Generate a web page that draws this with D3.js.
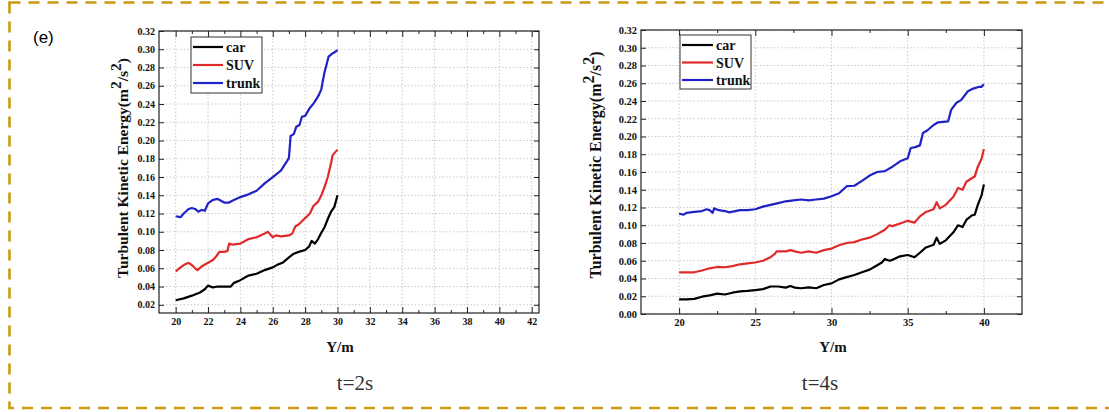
<!DOCTYPE html>
<html lang="en">
<head>
<meta charset="utf-8">
<title>Turbulent Kinetic Energy</title>
<style type="text/css">
    body { margin: 0; background: #fff; }
    svg { display: block; }
</style>
<script type="text/javascript" src="https://cdn.jsdelivr.net/npm/d3@7"></script>
</head>
<body>
<script type="text/javascript">
    // ---- data: [Y (m), TKE (m2/s2)] ----
    var seriesNames = ["car", "SUV", "trunk"];
    var seriesColors = ["#000000", "#e02a2a", "#1f22c4"];

    // t = 2s
    var car2s = [[20,0.025],[20.5,0.027],[21,0.030],[21.5,0.0335],[21.8,0.037],[22,0.041],[22.3,0.039],[22.6,0.040],[23,0.040],[23.4,0.040],[23.6,0.044],[24,0.047],[24.5,0.052],[25,0.054],[25.5,0.058],[26,0.061],[26.3,0.064],[26.6,0.066],[27,0.072],[27.3,0.076],[27.6,0.078],[28,0.080],[28.25,0.084],[28.4,0.090],[28.6,0.087],[28.8,0.092],[29,0.099],[29.2,0.105],[29.4,0.114],[29.6,0.122],[29.8,0.127],[30,0.140]];
    var suv2s = [[20,0.0565],[20.3,0.061],[20.5,0.0635],[20.8,0.066],[21,0.0635],[21.2,0.060],[21.35,0.058],[21.6,0.062],[22,0.066],[22.3,0.069],[22.5,0.073],[22.7,0.078],[23,0.078],[23.2,0.079],[23.3,0.087],[23.5,0.086],[24,0.087],[24.5,0.092],[25,0.094],[25.5,0.098],[25.7,0.100],[26,0.094],[26.2,0.096],[26.5,0.095],[27,0.096],[27.2,0.098],[27.4,0.106],[27.6,0.108],[28,0.115],[28.3,0.120],[28.5,0.128],[28.8,0.133],[29,0.140],[29.2,0.149],[29.4,0.160],[29.6,0.175],[29.7,0.184],[29.85,0.187],[30,0.190]];
    var trunk2s = [[20,0.117],[20.3,0.116],[20.5,0.120],[20.8,0.125],[21,0.126],[21.2,0.125],[21.4,0.122],[21.6,0.124],[21.8,0.123],[22,0.131],[22.3,0.135],[22.6,0.136],[23,0.132],[23.3,0.132],[23.5,0.134],[24,0.138],[24.5,0.141],[25,0.145],[25.5,0.153],[26,0.160],[26.5,0.167],[26.9,0.178],[27,0.181],[27.1,0.205],[27.3,0.207],[27.45,0.215],[27.65,0.217],[27.8,0.226],[28,0.227],[28.1,0.230],[28.3,0.236],[28.5,0.240],[28.75,0.247],[28.85,0.250],[29,0.256],[29.1,0.266],[29.2,0.275],[29.35,0.285],[29.45,0.292],[29.65,0.295],[29.85,0.297],[30,0.299]];

    // t = 4s
    var car4s = [[20,0.0165],[20.5,0.0165],[21,0.017],[21.5,0.0195],[22,0.021],[22.5,0.023],[23,0.022],[23.5,0.024],[24,0.0255],[24.5,0.026],[25,0.027],[25.5,0.028],[26,0.031],[26.5,0.031],[27,0.0297],[27.3,0.0315],[27.6,0.0297],[28,0.029],[28.5,0.030],[29,0.029],[29.5,0.0327],[30,0.0345],[30.5,0.039],[31,0.0415],[31.5,0.044],[32,0.047],[32.5,0.050],[33,0.055],[33.3,0.058],[33.5,0.062],[33.8,0.060],[34,0.061],[34.5,0.065],[35,0.0665],[35.45,0.064],[35.8,0.069],[36.2,0.075],[36.7,0.078],[36.9,0.086],[37.1,0.079],[37.5,0.083],[38,0.092],[38.3,0.100],[38.6,0.098],[38.85,0.106],[39.2,0.111],[39.4,0.112],[39.6,0.123],[39.85,0.134],[40,0.146]];
    var suv4s = [[20,0.047],[20.5,0.047],[21,0.047],[21.5,0.049],[22,0.0515],[22.5,0.053],[23,0.0527],[23.5,0.054],[24,0.056],[24.5,0.057],[25,0.058],[25.5,0.060],[26,0.064],[26.3,0.068],[26.4,0.0705],[26.8,0.0705],[27,0.0705],[27.3,0.072],[27.6,0.0705],[28,0.069],[28.5,0.0705],[29,0.069],[29.5,0.072],[30,0.0737],[30.5,0.0774],[31,0.080],[31.5,0.081],[32,0.084],[32.5,0.086],[33,0.090],[33.5,0.095],[33.8,0.100],[34,0.099],[34.5,0.102],[35,0.105],[35.45,0.103],[35.8,0.110],[36.2,0.115],[36.7,0.118],[36.9,0.126],[37.1,0.119],[37.5,0.123],[38,0.132],[38.3,0.142],[38.6,0.140],[38.85,0.149],[39.2,0.153],[39.4,0.155],[39.6,0.166],[39.85,0.175],[40,0.186]];
    var trunk4s = [[20,0.113],[20.3,0.112],[20.5,0.114],[21,0.115],[21.5,0.116],[21.8,0.118],[22,0.117],[22.2,0.114],[22.3,0.119],[22.6,0.117],[23,0.116],[23.3,0.1145],[23.6,0.1156],[24,0.117],[24.5,0.117],[25,0.118],[25.5,0.121],[26,0.123],[26.5,0.125],[27,0.127],[27.5,0.128],[28,0.129],[28.5,0.128],[29,0.129],[29.5,0.130],[30,0.1326],[30.5,0.136],[31,0.144],[31.5,0.1445],[32,0.150],[32.5,0.156],[33,0.160],[33.5,0.161],[34,0.166],[34.5,0.172],[35,0.1755],[35.2,0.187],[35.5,0.188],[35.8,0.190],[36,0.204],[36.3,0.207],[36.7,0.213],[37,0.216],[37.65,0.217],[37.85,0.230],[38.2,0.238],[38.5,0.241],[38.95,0.251],[39.3,0.254],[39.7,0.256],[39.85,0.256],[40,0.259]];

    // ticks
    var xTicks2s = [20,22,24,26,28,30,32,34,36,38,40,42];
    var xMinor2s = [21,23,25,27,29,31,33,35,37,39,41];
    var yTicks2s = [0.02,0.04,0.06,0.08,0.10,0.12,0.14,0.16,0.18,0.20,0.22,0.24,0.26,0.28,0.30,0.32];
    var xTicks4s = [20,25,30,35,40];
    var xMinor4s = [22.5,27.5,32.5,37.5];
    var yTicks4s = [0.00,0.02,0.04,0.06,0.08,0.10,0.12,0.14,0.16,0.18,0.20,0.22,0.24,0.26,0.28,0.30,0.32];

    var W = 1109, H = 412;
    var serif = "'Liberation Serif', 'Times New Roman', serif";

    var svg = d3.select("body").append("svg")
        .attr("width", W)
        .attr("height", H);

    svg.append("rect").attr("width", W).attr("height", H).attr("fill", "#fff");

    // dashed frame round the whole figure
    svg.append("rect")
        .attr("x", 9.5).attr("y", 2.5)
        .attr("width", 1120).attr("height", 405.5)
        .attr("fill", "none")
        .attr("stroke", "#c99a12")
        .attr("stroke-width", 2.6)
        .attr("stroke-dasharray", "11,8");

    svg.append("text")
        .attr("x", 33).attr("y", 43)
        .attr("font-family", "'Liberation Sans', Arial, sans-serif")
        .attr("font-size", 17)
        .text("(e)");

    function drawPanel(p) {
        var x = d3.scaleLinear().domain(p.xDomain).range([p.left, p.right]);
        var y = d3.scaleLinear().domain(p.yDomain).range([p.bottom, p.top]);
        var g = svg.append("g");

        /* GRID */
        g.selectAll(".gx").data(p.xTicks).enter().append("line")
            .attr("x1", function(d) { return x(d); })
            .attr("x2", function(d) { return x(d); })
            .attr("y1", p.top).attr("y2", p.bottom)
            .attr("stroke", "#bdbdbd").attr("stroke-width", 0.8)
            .attr("stroke-dasharray", "1.5,2");
        g.selectAll(".gy").data(p.yTicks).enter().append("line")
            .attr("x1", p.left).attr("x2", p.right)
            .attr("y1", function(d) { return y(d); })
            .attr("y2", function(d) { return y(d); })
            .attr("stroke", "#bdbdbd").attr("stroke-width", 0.8)
            .attr("stroke-dasharray", "1.5,2");

        /* AXES (ticks point inward) */
        var fmt = d3.format(".2f");
        g.append("g")
            .attr("transform", "translate(0," + p.bottom + ")")
            .call(d3.axisBottom(x).tickValues(p.xTicks).tickSize(-6).tickPadding(5).tickFormat(d3.format("d")));
        g.append("g")
            .attr("transform", "translate(0," + p.bottom + ")")
            .call(d3.axisBottom(x).tickValues(p.xMinor).tickSize(-3).tickFormat(""));
        g.append("g")
            .attr("transform", "translate(0," + p.top + ")")
            .call(d3.axisTop(x).tickValues(p.xTicks).tickSize(-6).tickFormat(""));
        g.append("g")
            .attr("transform", "translate(0," + p.top + ")")
            .call(d3.axisTop(x).tickValues(p.xMinor).tickSize(-3).tickFormat(""));
        g.append("g")
            .attr("transform", "translate(" + p.left + ",0)")
            .call(d3.axisLeft(y).tickValues(p.yTicks).tickSize(-5).tickPadding(4).tickFormat(fmt));
        g.append("g")
            .attr("transform", "translate(" + p.right + ",0)")
            .call(d3.axisRight(y).tickValues(p.yTicks).tickSize(-5).tickFormat(""));

        g.selectAll(".domain").attr("stroke", "none");
        g.selectAll(".tick line").attr("stroke", "#222").attr("stroke-width", 1);
        g.selectAll(".tick text")
            .attr("font-family", serif)
            .attr("font-weight", "bold")
            .attr("font-size", p.tickFont)
            .attr("fill", "#111");

        // frame
        g.append("rect")
            .attr("x", p.left).attr("y", p.top)
            .attr("width", p.right - p.left).attr("height", p.bottom - p.top)
            .attr("fill", "none").attr("stroke", "#222").attr("stroke-width", 1.2);

        /* LINES */
        var line = d3.line()
            .x(function(d) { return x(d[0]); })
            .y(function(d) { return y(d[1]); });
        p.series.forEach(function(s, i) {
            g.append("path")
                .datum(s)
                .attr("d", line)
                .attr("fill", "none")
                .attr("stroke", seriesColors[i])
                .attr("stroke-width", 2.2)
                .attr("stroke-linejoin", "round");
        });

        /* LEGEND */
        var lg = g.append("g").attr("transform", "translate(" + p.legend[0] + "," + p.legend[1] + ")");
        lg.append("rect")
            .attr("width", p.legendW).attr("height", p.legendH)
            .attr("fill", "#fff").attr("stroke", "#333").attr("stroke-width", 1);
        seriesNames.forEach(function(name, i) {
            var ly = 10 + i * p.legendStep;
            lg.append("line")
                .attr("x1", 2).attr("x2", p.legendLine)
                .attr("y1", ly).attr("y2", ly)
                .attr("stroke", seriesColors[i]).attr("stroke-width", 2.2);
            lg.append("text")
                .attr("x", p.legendLine + 3).attr("y", ly + 5)
                .attr("font-family", serif).attr("font-weight", "bold")
                .attr("font-size", 14).attr("fill", "#111")
                .text(name);
        });

        /* TITLES */
        var yt = g.append("text")
            .attr("transform", "translate(" + p.yTitleX + "," + p.yTitleY + ") rotate(-90)")
            .attr("text-anchor", "middle")
            .attr("font-family", serif).attr("font-weight", "bold")
            .attr("font-size", p.titleFont).attr("fill", "#111");
        yt.append("tspan").text("Turbulent Kinetic Energy(m");
        yt.append("tspan").attr("dy", -7).text("2");
        yt.append("tspan").attr("dy", 7).text("/s");
        yt.append("tspan").attr("dy", -7).text("2");
        yt.append("tspan").attr("dy", 7).text(")");

        g.append("text")
            .attr("x", p.xTitleX).attr("y", 352)
            .attr("text-anchor", "middle")
            .attr("font-family", serif).attr("font-weight", "bold")
            .attr("font-size", 15).attr("fill", "#111")
            .text("Y/m");

        g.append("text")
            .attr("x", p.captionX).attr("y", 390)
            .attr("text-anchor", "middle")
            .attr("font-family", serif)
            .attr("font-size", 21).attr("fill", "#333")
            .text(p.caption);
    }

    drawPanel({
        left: 159, right: 539, top: 31, bottom: 313,
        xDomain: [18.97, 42.45], yDomain: [0.011, 0.32],
        xTicks: xTicks2s, xMinor: xMinor2s, yTicks: yTicks2s,
        series: [car2s, suv2s, trunk2s],
        tickFont: 10, titleFont: 15.5,
        legend: [191, 37], legendW: 71, legendH: 56, legendStep: 18, legendLine: 32,
        yTitleX: 128, yTitleY: 168, xTitleX: 340,
        caption: "t=2s", captionX: 355
    });

    drawPanel({
        left: 641, right: 1022, top: 30, bottom: 314,
        xDomain: [17.5, 42.5], yDomain: [0, 0.32],
        xTicks: xTicks4s, xMinor: xMinor4s, yTicks: yTicks4s,
        series: [car4s, suv4s, trunk4s],
        tickFont: 10.5, titleFont: 16,
        legend: [680, 35], legendW: 71, legendH: 54, legendStep: 17.5, legendLine: 33,
        yTitleX: 601, yTitleY: 165, xTitleX: 833,
        caption: "t=4s", captionX: 820
    });
</script>
</body>
</html>
